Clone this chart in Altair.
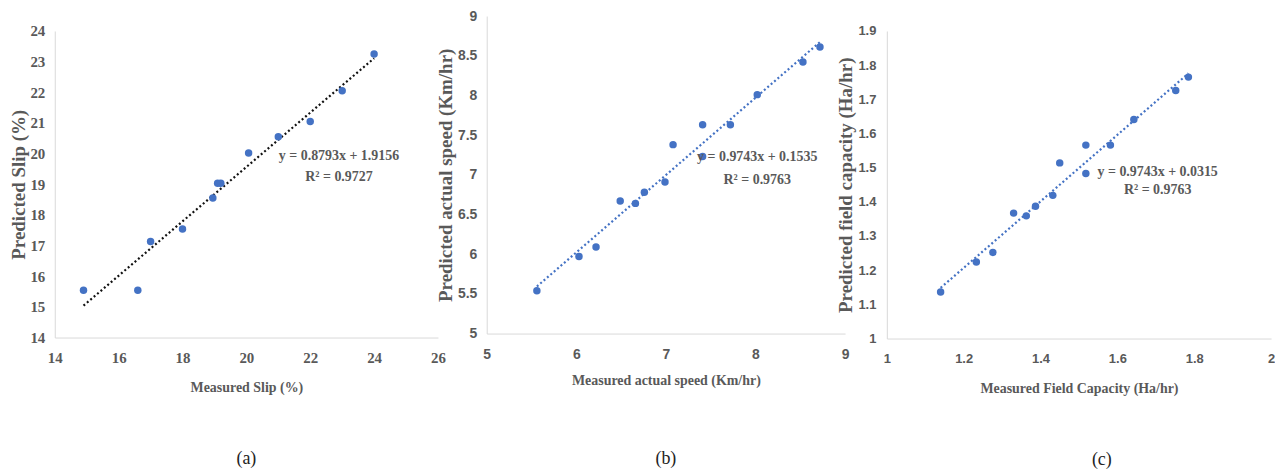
import altair as alt
import pandas as pd

# ---- data ----
slip_measured = [14.9, 16.6, 17.0, 18.0, 18.95, 19.1, 19.2, 20.07, 21.0, 22.0, 23.0, 24.0]
slip_predicted = [15.54, 15.54, 17.13, 17.54, 18.55, 19.03, 19.03, 20.02, 20.55, 21.05, 22.05, 23.25]

speed_measured = [5.56, 6.03, 6.22, 6.49, 6.66, 6.76, 6.99, 7.08, 7.41, 7.41, 7.72, 8.02, 8.53, 8.72]
speed_predicted = [5.54, 5.97, 6.09, 6.67, 6.64, 6.78, 6.91, 7.38, 7.63, 7.23, 7.63, 8.01, 8.42, 8.61]

fc_measured = [1.14, 1.233, 1.276, 1.330, 1.363, 1.387, 1.432, 1.450, 1.518, 1.518, 1.582, 1.643, 1.752, 1.785]
fc_predicted = [1.136, 1.224, 1.252, 1.367, 1.359, 1.387, 1.419, 1.514, 1.566, 1.483, 1.566, 1.641, 1.726, 1.765]

slip_x_ticks = [14, 16, 18, 20, 22, 24, 26]
slip_y_ticks = [14, 15, 16, 17, 18, 19, 20, 21, 22, 23, 24]
speed_x_ticks = [5, 6, 7, 8, 9]
speed_y_ticks = [5, 5.5, 6, 6.5, 7, 7.5, 8, 8.5, 9]
fc_x_ticks = [1, 1.2, 1.4, 1.6, 1.8, 2]
fc_y_ticks = [1, 1.1, 1.2, 1.3, 1.4, 1.5, 1.6, 1.7, 1.8, 1.9]

slip_eq = ["y = 0.8793x + 1.9156", "R² = 0.9727"]
speed_eq = ["y = 0.9743x + 0.1535", "R² = 0.9763"]
fc_eq = ["y = 0.9743x + 0.0315", "R² = 0.9763"]

captions = ["(a)", "(b)", "(c)"]

GRAY = "#595959"
BLUE = "#4472C4"
AXIS = "#d9d9d9"
SERIF = "Liberation Serif"
SANS = "Liberation Sans"

W_A, H_A = 385, 308
W_B, H_B = 360, 319
W_C, H_C = 386, 309


def panel(mx, py, xdom, ydom, xticks, yticks, xtitle, ytitle, eq, eq_x, eq_y,
          trend_color, tick_font, tick_size, w, h, caption, cap_offset,
          x_lp, x_tp, y_lp, y_tp, cap_dx=0):
    df = pd.DataFrame({"m": mx, "p": py})
    eq_df = pd.DataFrame({"m": [eq_x, eq_x], "p": eq_y, "t": eq})
    xs = alt.Scale(domain=xdom, nice=False, zero=False)
    ys = alt.Scale(domain=ydom, nice=False, zero=False)
    xaxis = alt.Axis(values=xticks, format="~g", title=xtitle, grid=False, ticks=False,
                     domainColor=AXIS, domainWidth=1, labelColor=GRAY, labelFont=tick_font,
                     labelFontSize=tick_size, labelFontWeight="bold", labelPadding=x_lp,
                     titleFont=SERIF, titleFontSize=14, titleFontWeight="bold",
                     titleColor=GRAY, titlePadding=x_tp, labelFlush=False)
    yaxis = alt.Axis(values=yticks, format="~g", title=ytitle, grid=False, ticks=False,
                     domainColor=AXIS, domainWidth=1, labelColor=GRAY, labelFont=tick_font,
                     labelFontSize=tick_size, labelFontWeight="bold", labelPadding=y_lp,
                     titleFont=SERIF, titleFontSize=19, titleFontWeight="bold",
                     titleColor=GRAY, titlePadding=y_tp, labelFlush=False)
    base = alt.Chart(df)
    trend = base.transform_regression("m", "p").mark_line(
        color=trend_color, strokeDash=[2, 2.5], strokeWidth=2.2
    ).encode(x=alt.X("m:Q", scale=xs, axis=xaxis), y=alt.Y("p:Q", scale=ys, axis=yaxis))
    pts = base.mark_circle(size=56, color=BLUE, opacity=1).encode(
        x=alt.X("m:Q", scale=xs, axis=xaxis), y=alt.Y("p:Q", scale=ys, axis=yaxis))
    txt = alt.Chart(eq_df).mark_text(
        font=SERIF, fontSize=14, fontWeight="bold", color=GRAY, align="center", baseline="middle"
    ).encode(x=alt.X("m:Q", scale=xs, axis=xaxis), y=alt.Y("p:Q", scale=ys, axis=yaxis), text="t:N")
    return alt.layer(trend, pts, txt).properties(
        width=w, height=h,
        title=alt.TitleParams(caption, orient="bottom", anchor="middle", frame="group",
                              offset=cap_offset, font=SERIF, fontSize=18, fontWeight="normal",
                              color="#222222", dx=cap_dx))


def spacer(w):
    return alt.Chart(pd.DataFrame({"z": [0]})).mark_point(opacity=0).encode(
        x=alt.value(0), y=alt.value(0)).properties(width=w, height=1)


a = panel(slip_measured, slip_predicted, [14, 26], [14, 24], slip_x_ticks, slip_y_ticks,
          "Measured Slip (%)", "Predicted Slip (%)", slip_eq, 22.9, [19.93, 19.23],
          "#111111", SERIF, 15, W_A, H_A, captions[0], 56, 13, 15, 10, 1)
b = panel(speed_measured, speed_predicted, [5, 9], [5, 9], speed_x_ticks, speed_y_ticks,
          "Measured actual speed (Km/hr)", "Predicted actual speed (Km/hr)", speed_eq, 8.02,
          [7.23, 6.94], BLUE, SANS, 14, W_B, H_B, captions[1], 63, 14, 12, 10, 2)
c = panel(fc_measured, fc_predicted, [1, 2], [1, 1.9], fc_x_ticks, fc_y_ticks,
          "Measured Field Capacity (Ha/hr)", "Predicted field capacity (Ha/hr)", fc_eq, 1.705,
          [1.486, 1.434], BLUE, SANS, 13, W_C, H_C, captions[2], 56, 14, 16, 11, 2, cap_dx=23)

left = alt.vconcat(spacer(W_A), a, spacing=14, bounds="flush")
right_c = alt.vconcat(spacer(W_C), c, spacing=14, bounds="flush")
bc = alt.hconcat(b, right_c, spacing=42, bounds="flush")
# nested concat groups count as zero width in a flush layout, so the gap includes panel a's width
chart = alt.hconcat(left, bc, spacing=W_A + 49, bounds="flush").properties(
    padding={"left": 2, "top": 0, "right": 0, "bottom": 0}
).configure_view(strokeWidth=0)

chart.save("out.html", embed_options={"renderer": "svg", "actions": False})
